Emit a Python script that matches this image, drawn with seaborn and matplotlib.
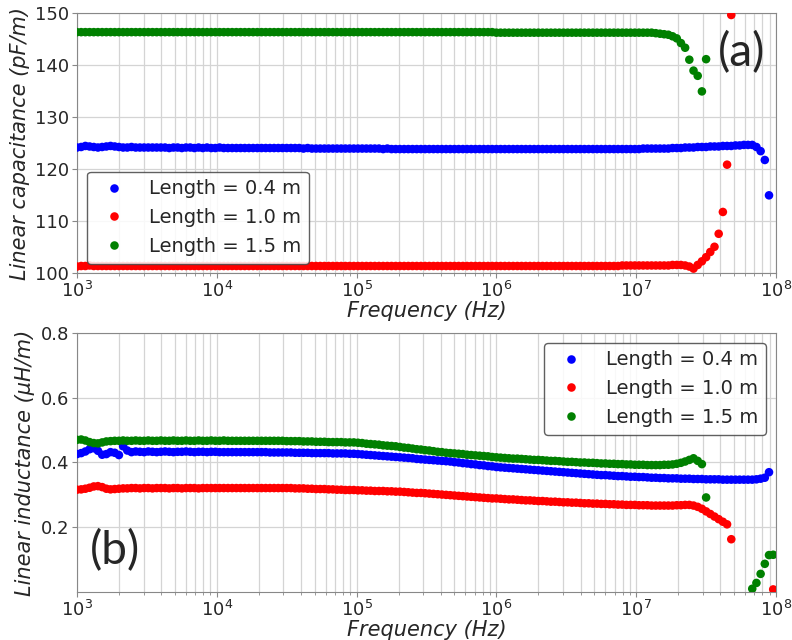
import numpy as np
import pandas as pd
import matplotlib
matplotlib.use("Agg")
import matplotlib.pyplot as plt
import seaborn as sns

nan = np.nan

# Sweep grid of the measurement (log-spaced, 0.03 decade step)
freq_hz = np.logspace(3, 7.98, 167)

lengths = ["Length = 0.4 m", "Length = 1.0 m", "Length = 1.5 m"]
colors = ["blue", "red", "green"]

# ---------- (a) linear capacitance, pF/m ----------
cap_04 = [
    124.2, 124.3, 124.5, 124.4, 124.3, 124.2, 124.3, 124.4, 124.5, 124.4,
    124.3, 124.2, 124.2, 124.3, 124.2, 124.2, 124.2, 124.2, 124.2, 124.2,
    124.2, 124.2, 124.1, 124.2, 124.2, 124.1, 124.2, 124.2, 124.1, 124.2,
    124.1, 124.2, 124.1, 124.1, 124.2, 124.1, 124.1, 124.1, 124.1, 124.1,
    124.1, 124.1, 124.1, 124.1, 124.1, 124.1, 124.1, 124.1, 124.1, 124.1,
    124.1, 124.1, 124.1, 124.1, 124.0, 124.1, 124.0, 124.0, 124.0, 124.0,
    124.0, 124.0, 124.0, 124.0, 124.0, 124.0, 124.0, 124.0, 124.0, 124.0,
    124.0, 124.0, 124.0, 123.9, 124.0, 123.9, 123.9, 123.9, 123.9, 123.9,
    123.9, 123.9, 123.9, 123.9, 123.9, 123.9, 123.9, 123.9, 123.9, 123.9,
    123.9, 123.9, 123.9, 123.9, 123.9, 123.9, 123.9, 123.9, 123.9, 123.9,
    123.9, 123.9, 123.9, 123.9, 123.9, 123.9, 123.9, 123.9, 123.9, 123.9,
    123.9, 123.9, 123.9, 123.9, 123.9, 123.9, 123.9, 123.9, 123.9, 123.9,
    123.9, 123.9, 123.9, 123.9, 123.9, 123.9, 123.9, 123.9, 123.9, 123.9,
    123.9, 123.9, 123.9, 123.9, 123.9, 124.0, 124.0, 124.0, 124.0, 124.0,
    124.0, 124.0, 124.1, 124.1, 124.1, 124.2, 124.2, 124.2, 124.3, 124.3,
    124.3, 124.4, 124.4, 124.4, 124.5, 124.5, 124.5, 124.6, 124.6, 124.7,
    124.7, 124.7, 124.3, 123.5, 121.8, 115.0, nan,
]
cap_10 = [
    101.3, 101.4, 101.4, 101.5, 101.4, 101.4, 101.4, 101.4, 101.4, 101.4,
    101.4, 101.4, 101.4, 101.4, 101.4, 101.4, 101.4, 101.4, 101.4, 101.4,
    101.4, 101.4, 101.4, 101.4, 101.4, 101.4, 101.4, 101.4, 101.4, 101.4,
    101.4, 101.4, 101.4, 101.4, 101.4, 101.4, 101.4, 101.4, 101.4, 101.4,
    101.4, 101.4, 101.4, 101.4, 101.4, 101.4, 101.4, 101.4, 101.4, 101.4,
    101.4, 101.4, 101.4, 101.4, 101.4, 101.4, 101.4, 101.4, 101.4, 101.4,
    101.4, 101.4, 101.4, 101.4, 101.4, 101.4, 101.4, 101.4, 101.4, 101.4,
    101.4, 101.4, 101.4, 101.4, 101.4, 101.4, 101.4, 101.4, 101.4, 101.4,
    101.4, 101.4, 101.4, 101.4, 101.4, 101.4, 101.4, 101.4, 101.4, 101.4,
    101.4, 101.4, 101.4, 101.4, 101.4, 101.4, 101.4, 101.4, 101.4, 101.4,
    101.4, 101.4, 101.4, 101.4, 101.4, 101.4, 101.4, 101.4, 101.4, 101.4,
    101.4, 101.4, 101.4, 101.4, 101.4, 101.4, 101.4, 101.4, 101.4, 101.4,
    101.4, 101.4, 101.4, 101.4, 101.4, 101.4, 101.4, 101.4, 101.4, 101.4,
    101.5, 101.5, 101.5, 101.5, 101.5, 101.5, 101.5, 101.5, 101.5, 101.5,
    101.5, 101.5, 101.6, 101.6, 101.6, 101.5, 101.3, 100.9, 101.6, 102.3,
    103.1, 104.1, 105.1, 107.6, 111.8, 120.9, 149.7, nan, nan, nan,
    nan, nan, nan, nan, nan, nan, nan,
]
cap_15 = [
    146.4, 146.4, 146.4, 146.4, 146.4, 146.4, 146.4, 146.4, 146.4, 146.4,
    146.4, 146.4, 146.4, 146.4, 146.4, 146.4, 146.4, 146.4, 146.4, 146.4,
    146.4, 146.4, 146.4, 146.4, 146.4, 146.4, 146.4, 146.4, 146.4, 146.4,
    146.4, 146.4, 146.4, 146.4, 146.4, 146.4, 146.4, 146.4, 146.4, 146.4,
    146.4, 146.4, 146.4, 146.4, 146.4, 146.4, 146.4, 146.4, 146.4, 146.4,
    146.4, 146.4, 146.4, 146.4, 146.4, 146.4, 146.4, 146.4, 146.4, 146.4,
    146.4, 146.4, 146.4, 146.4, 146.4, 146.4, 146.4, 146.4, 146.4, 146.4,
    146.4, 146.4, 146.4, 146.4, 146.4, 146.4, 146.4, 146.4, 146.4, 146.4,
    146.4, 146.4, 146.4, 146.4, 146.4, 146.4, 146.4, 146.4, 146.4, 146.4,
    146.4, 146.4, 146.4, 146.4, 146.4, 146.4, 146.4, 146.4, 146.4, 146.4,
    146.3, 146.3, 146.3, 146.3, 146.3, 146.3, 146.3, 146.3, 146.3, 146.3,
    146.3, 146.3, 146.3, 146.3, 146.3, 146.3, 146.3, 146.3, 146.3, 146.3,
    146.3, 146.3, 146.3, 146.3, 146.3, 146.3, 146.3, 146.3, 146.3, 146.3,
    146.3, 146.3, 146.3, 146.3, 146.3, 146.3, 146.3, 146.3, 146.2, 146.1,
    146.0, 145.9, 145.6, 145.2, 144.3, 143.4, 141.1, 139.0, 138.0, 135.0,
    141.2, nan, nan, nan, nan, nan, nan, nan, nan, nan,
    nan, nan, nan, nan, nan, nan, nan,
]

# ---------- (b) linear inductance, uH/m ----------
ind_04 = [
    0.426, 0.429, 0.434, 0.441, 0.444, 0.436, 0.424, 0.426, 0.432, 0.430,
    0.423, 0.450, 0.437, 0.432, 0.434, 0.433, 0.432, 0.434, 0.433, 0.432,
    0.433, 0.434, 0.433, 0.432, 0.433, 0.433, 0.434, 0.433, 0.432, 0.433,
    0.433, 0.432, 0.433, 0.433, 0.432, 0.432, 0.432, 0.432, 0.432, 0.432,
    0.432, 0.432, 0.432, 0.432, 0.432, 0.432, 0.431, 0.431, 0.431, 0.431,
    0.431, 0.431, 0.430, 0.430, 0.430, 0.430, 0.429, 0.429, 0.429, 0.429,
    0.429, 0.428, 0.428, 0.428, 0.428, 0.427, 0.427, 0.426, 0.425, 0.424,
    0.423, 0.422, 0.421, 0.420, 0.419, 0.418, 0.417, 0.416, 0.415, 0.414,
    0.413, 0.411, 0.410, 0.409, 0.408, 0.407, 0.406, 0.405, 0.404, 0.403,
    0.401, 0.400, 0.398, 0.397, 0.395, 0.394, 0.392, 0.391, 0.389, 0.388,
    0.386, 0.385, 0.384, 0.383, 0.382, 0.381, 0.380, 0.379, 0.378, 0.377,
    0.376, 0.375, 0.374, 0.373, 0.372, 0.371, 0.370, 0.369, 0.368, 0.367,
    0.366, 0.365, 0.364, 0.363, 0.362, 0.361, 0.361, 0.360, 0.359, 0.358,
    0.358, 0.357, 0.356, 0.356, 0.355, 0.355, 0.354, 0.353, 0.353, 0.352,
    0.352, 0.351, 0.351, 0.351, 0.350, 0.350, 0.350, 0.349, 0.349, 0.349,
    0.348, 0.348, 0.348, 0.348, 0.347, 0.347, 0.347, 0.347, 0.347, 0.347,
    0.347, 0.347, 0.348, 0.350, 0.353, 0.370, nan,
]
ind_10 = [
    0.316, 0.317, 0.319, 0.322, 0.326, 0.327, 0.324, 0.319, 0.317, 0.318,
    0.319, 0.320, 0.320, 0.321, 0.321, 0.320, 0.321, 0.321, 0.320, 0.321,
    0.321, 0.321, 0.320, 0.321, 0.321, 0.320, 0.321, 0.321, 0.321, 0.320,
    0.321, 0.321, 0.321, 0.321, 0.321, 0.321, 0.321, 0.321, 0.321, 0.321,
    0.321, 0.321, 0.321, 0.321, 0.321, 0.321, 0.321, 0.321, 0.321, 0.321,
    0.321, 0.321, 0.320, 0.320, 0.320, 0.319, 0.319, 0.318, 0.318, 0.318,
    0.317, 0.317, 0.316, 0.316, 0.315, 0.315, 0.315, 0.314, 0.314, 0.313,
    0.313, 0.312, 0.312, 0.312, 0.311, 0.311, 0.310, 0.310, 0.309, 0.308,
    0.307, 0.306, 0.306, 0.305, 0.304, 0.303, 0.302, 0.301, 0.300, 0.299,
    0.298, 0.297, 0.296, 0.295, 0.294, 0.293, 0.292, 0.291, 0.290, 0.289,
    0.289, 0.288, 0.287, 0.286, 0.286, 0.285, 0.284, 0.283, 0.283, 0.282,
    0.281, 0.281, 0.280, 0.279, 0.279, 0.278, 0.277, 0.277, 0.276, 0.276,
    0.275, 0.274, 0.274, 0.273, 0.273, 0.272, 0.272, 0.271, 0.271, 0.270,
    0.270, 0.269, 0.269, 0.269, 0.268, 0.268, 0.268, 0.267, 0.267, 0.267,
    0.267, 0.267, 0.267, 0.268, 0.268, 0.269, 0.269, 0.267, 0.263, 0.257,
    0.249, 0.241, 0.233, 0.225, 0.217, 0.209, 0.163, nan, nan, nan,
    nan, nan, nan, nan, nan, nan, 0.008,
]
ind_15 = [
    0.470, 0.471, 0.468, 0.463, 0.460, 0.459, 0.462, 0.465, 0.466, 0.467,
    0.467, 0.468, 0.467, 0.467, 0.468, 0.467, 0.467, 0.468, 0.467, 0.467,
    0.468, 0.467, 0.467, 0.468, 0.467, 0.467, 0.468, 0.467, 0.467, 0.468,
    0.467, 0.467, 0.468, 0.467, 0.467, 0.468, 0.467, 0.467, 0.467, 0.467,
    0.467, 0.467, 0.467, 0.467, 0.467, 0.467, 0.467, 0.467, 0.467, 0.467,
    0.466, 0.466, 0.466, 0.466, 0.465, 0.465, 0.465, 0.464, 0.464, 0.464,
    0.463, 0.463, 0.463, 0.463, 0.462, 0.462, 0.462, 0.461, 0.460, 0.458,
    0.457, 0.456, 0.455, 0.453, 0.452, 0.451, 0.450, 0.448, 0.446, 0.445,
    0.443, 0.441, 0.440, 0.438, 0.437, 0.435, 0.433, 0.432, 0.430, 0.429,
    0.428, 0.427, 0.426, 0.424, 0.423, 0.422, 0.421, 0.420, 0.419, 0.417,
    0.416, 0.415, 0.414, 0.413, 0.412, 0.412, 0.411, 0.410, 0.409, 0.408,
    0.408, 0.407, 0.406, 0.405, 0.405, 0.404, 0.403, 0.402, 0.402, 0.401,
    0.400, 0.400, 0.399, 0.399, 0.398, 0.397, 0.397, 0.396, 0.396, 0.395,
    0.395, 0.394, 0.394, 0.393, 0.393, 0.393, 0.392, 0.392, 0.392, 0.392,
    0.393, 0.393, 0.394, 0.396, 0.399, 0.403, 0.408, 0.413, 0.405, 0.395,
    0.292, nan, nan, nan, nan, nan, nan, nan, nan, nan,
    nan, 0.010, 0.028, 0.056, 0.087, 0.114, 0.115,
]


def long_frame(series):
    parts = []
    for name, vals in zip(lengths, series):
        parts.append(pd.DataFrame({"Frequency": freq_hz, "value": vals, "Length": name}))
    return pd.concat(parts, ignore_index=True)


df_cap = long_frame([cap_04, cap_10, cap_15])
df_ind = long_frame([ind_04, ind_10, ind_15])

sns.set_style("ticks")
plt.rcParams["font.family"] = ["DejaVu Sans"]

fig = plt.figure(figsize=(7.92, 6.4), dpi=100)
ax1 = fig.add_axes([0.0972, 0.573, 0.8826, 0.406])
ax2 = fig.add_axes([0.0972, 0.075, 0.8826, 0.4047])

palette = dict(zip(lengths, colors))

for ax, df, ylabel, ylim, yticks, loc in [
    (ax1, df_cap, "Linear capacitance (pF/m)", (100, 150), [100, 110, 120, 130, 140, 150], "lower left"),
    (ax2, df_ind, "Linear inductance (μH/m)", (0, 0.8), [0.2, 0.4, 0.6, 0.8], "upper right"),
]:
    sns.scatterplot(data=df.dropna(), x="Frequency", y="value", hue="Length",
                    hue_order=lengths, palette=palette, s=38, linewidth=0,
                    ax=ax, zorder=3, clip_on=True)
    ax.set_xscale("log")
    ax.set_xlim(1e3, 1e8)
    ax.set_ylim(*ylim)
    ax.set_yticks(yticks)
    ax.grid(True, which="both", color="#d4d4d4", linewidth=0.9)
    ax.set_axisbelow(True)
    for sp in ax.spines.values():
        sp.set_color("#888888")
        sp.set_visible(True)
    ax.tick_params(which="major", labelsize=13, color="#888888", length=3.5, pad=2)
    ax.tick_params(which="minor", color="#888888", length=2)
    ax.set_xlabel("Frequency (Hz)", fontsize=15, fontstyle="italic", labelpad=0)
    ax.set_ylabel(ylabel, fontsize=15, fontstyle="italic", labelpad=4)
    leg = ax.get_legend()
    handles = leg.legend_handles
    labels = [t.get_text() for t in leg.get_texts()]
    leg.remove()
    ax.legend(handles, labels, loc=loc, fontsize=14, frameon=True,
              fancybox=True, edgecolor="#444444", framealpha=0.85)

ax1.text(0.951, 0.85, "(a)", transform=ax1.transAxes, fontsize=33,
         family=["Lato", "DejaVu Sans"], ha="center", va="center")
ax2.text(0.054, 0.16, "(b)", transform=ax2.transAxes, fontsize=33,
         family=["Lato", "DejaVu Sans"], ha="center", va="center")

fig.savefig("out.png", dpi=100)
